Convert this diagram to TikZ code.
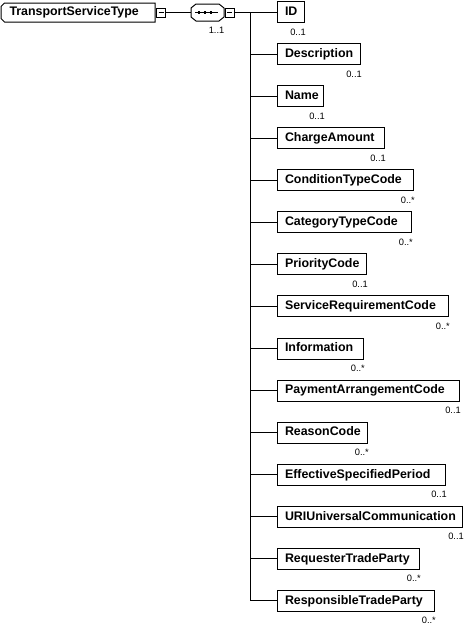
\documentclass[tikz,border=0pt]{standalone}
\usepackage{fontspec}
\setmainfont{Liberation Sans}
\tikzset{
  el/.style={draw,line width=1pt,fill=white,minimum height=21pt,inner xsep=7.5pt,inner ysep=0pt,
    anchor=west,font=\bfseries\fontsize{12.4}{14}\selectfont,text height=9pt,text depth=2.5pt,align=left},
  mult/.style={font=\fontsize{9.3}{10}\selectfont,anchor=base east,inner sep=0pt},
  pm/.style={draw,line width=0.8pt,fill=white,minimum size=9pt,inner sep=0pt},
  conn/.style={line width=1pt},
  outline/.style={draw,line width=1pt,fill=white}
}
\begin{document}
\begin{tikzpicture}[x=1pt,y=-1pt]
\useasboundingbox (0,0) rectangle (465,633);
% root
\path[outline] (4.5,3) -- (155,3) -- (155,22) -- (4.5,22) -- (1,18.5) -- (1,6.5) -- cycle;
\node[el,draw=none,fill=none,minimum width=154pt,minimum height=19pt,text width=138pt] (root) at (1,12.5) {TransportServiceType};
\node[pm] (rootpm) at (161,12.5) {};
\draw[line width=0.8pt] ([xshift=-2.5pt]rootpm.center) -- ([xshift=2.5pt]rootpm.center);
% sequence compositor
\path[outline] (196,4) -- (219,4) -- (224,8) -- (224,17) -- (219,21) -- (196,21) -- (191,17) -- (191,8) -- cycle;
\node[minimum width=33pt,minimum height=17pt,inner sep=0pt] (seq) at (207.5,12.5) {};
\draw[line width=0.8pt] (195,12.5) -- (218,12.5);
\foreach \dx in {199,205,211}{\fill (\dx-1.4,11.1) rectangle (\dx+1.4,13.9);}
\node[pm] (seqpm) at (229.5,12.5) {};
\draw[line width=0.8pt] ([xshift=-2.5pt]seqpm.center) -- ([xshift=2.5pt]seqpm.center);
\node[mult] (seqmult) at (224.5,33) {1..1};
\draw[conn] (rootpm.east) -- (seq.west);
\coordinate (trunk) at (250,12.5);
\draw[conn] (seqpm.east) -- (trunk);
% children
\foreach \n/\r/\m [count=\i from 0] in {
  ID/304/0..1,
  Description/360/0..1,
  Name/323/0..1,
  ChargeAmount/384/0..1,
  ConditionTypeCode/413/0..*,
  CategoryTypeCode/411/0..*,
  PriorityCode/366/0..1,
  ServiceRequirementCode/448/0..*,
  Information/363/0..*,
  PaymentArrangementCode/459/0..1,
  ReasonCode/367/0..*,
  EffectiveSpecifiedPeriod/445/0..1,
  URIUniversalCommunication/462/0..1,
  RequesterTradeParty/419/0..*,
  ResponsibleTradeParty/434/0..*}{
  \pgfmathsetmacro\yy{12+42.07*\i}
  \pgfmathsetmacro\ww{\r-277}
  \pgfmathsetmacro\tw{\r-277-15}
  \node[el,minimum width=\ww pt,text width=\tw pt] (c\i) at (277,\yy) {\n};
  \node[mult] (m\i) at ([xshift=1pt,yshift=-12pt]c\i.south east) {\m};
  \draw[conn] (trunk) |- (c\i.west);
}
\end{tikzpicture}
\end{document}
